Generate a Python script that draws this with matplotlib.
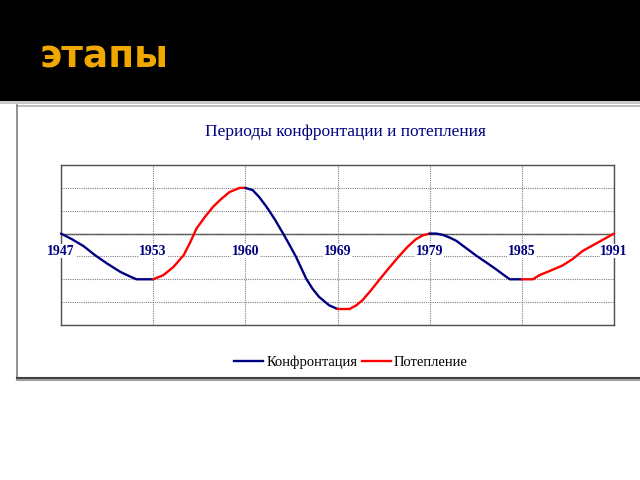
import matplotlib
matplotlib.use("Agg")
import matplotlib.pyplot as plt
from matplotlib.patches import Rectangle
from matplotlib.lines import Line2D

# категории (годы) на оси X
years = ["1947", "1953", "1960", "1969", "1979", "1985", "1991"]

# участки кривой: положение по оси X в долях категорий и значение
conf1_x = [0.0, 0.12, 0.245, 0.37, 0.5, 0.645, 0.75, 0.82, 0.9, 1.0]
conf1_y = [0.0, -0.25, -0.55, -0.95, -1.31, -1.68, -1.88, -2.0, -2.0, -2.0]

warm1_x = [1.0, 1.11, 1.22, 1.33, 1.4, 1.47, 1.56, 1.65, 1.74, 1.83, 1.94, 2.0]
warm1_y = [-2.0, -1.82, -1.46, -0.95, -0.4, 0.22, 0.72, 1.17, 1.52, 1.82, 2.0, 2.0]

conf2_x = [2.0, 2.08, 2.15, 2.23, 2.32, 2.41, 2.48, 2.55, 2.66, 2.73, 2.8, 2.91, 3.0]
conf2_y = [2.0, 1.9, 1.6, 1.17, 0.62, 0.0, -0.5, -1.02, -1.97, -2.42, -2.77, -3.14, -3.3]

warm2_x = [3.0, 3.13, 3.2, 3.27, 3.36, 3.45, 3.56, 3.67, 3.76, 3.85, 3.93, 4.0]
warm2_y = [-3.3, -3.3, -3.15, -2.92, -2.5, -2.04, -1.5, -0.98, -0.58, -0.25, -0.07, 0.0]

conf3_x = [4.0, 4.07, 4.145, 4.22, 4.29, 4.4, 4.51, 4.62, 4.72, 4.8, 4.87, 5.0]
conf3_y = [0.0, 0.0, -0.06, -0.18, -0.32, -0.65, -0.98, -1.28, -1.56, -1.8, -2.0, -2.0]

warm3_x = [5.0, 5.12, 5.19, 5.3, 5.44, 5.55, 5.66, 5.83, 6.0]
warm3_y = [-2.0, -2.0, -1.82, -1.64, -1.4, -1.12, -0.76, -0.38, 0.0]

navy = "#000080"
red = "#ff0000"
serif = "Liberation Serif"

fig = plt.figure(figsize=(6.4, 4.8), dpi=100)

# оформление слайда: черная шапка и белая панель с тенью
fig.patches.append(Rectangle((0, 1 - 100 / 480), 1, 100 / 480, transform=fig.transFigure,
                             color="black", zorder=0))
fig.add_artist(Line2D([0, 1], [1 - 102.5 / 480] * 2, color="#c8c8c8", lw=1.5))
fig.add_artist(Line2D([17 / 640, 1], [1 - 105.5 / 480] * 2, color="#b0b0b0", lw=1.2))
fig.add_artist(Line2D([17 / 640] * 2, [1 - 105 / 480, 1 - 377 / 480], color="#808080", lw=1.2))
fig.add_artist(Line2D([17 / 640, 1], [1 - 377.5 / 480] * 2, color="#404040", lw=1.5))
fig.add_artist(Line2D([17 / 640, 1], [1 - 379.5 / 480] * 2, color="#a0a0a0", lw=1.5))
fig.text(39 / 640, 1 - 57 / 480, "этапы", color="#f0a800", fontsize=27,
         fontweight="bold", family="DejaVu Sans", va="center", ha="left")

ax = fig.add_axes([61 / 640, 1 - 325 / 480, (614 - 61) / 640, 160 / 480])
ax.set_xlim(0, len(years) - 1)
ax.set_ylim(-4, 3)
ax.set_xticks(range(len(years)))
ax.set_yticks(range(-4, 4))
ax.tick_params(length=0, labelbottom=False, labelleft=False)
ax.grid(True, color="#808080", linestyle=(0, (1, 1)), linewidth=0.8)
ax.axhline(0, color="#404040", lw=1.0, zorder=1)
for s in ax.spines.values():
    s.set_color("#505050")
    s.set_linewidth(1.0)

for xs, ys, c in [(conf1_x, conf1_y, navy), (warm1_x, warm1_y, red),
                  (conf2_x, conf2_y, navy), (warm2_x, warm2_y, red),
                  (conf3_x, conf3_y, navy), (warm3_x, warm3_y, red)]:
    ax.plot(xs, ys, color=c, lw=1.7, solid_capstyle="round", solid_joinstyle="round",
            clip_on=False, zorder=3)

for i, y in enumerate(years):
    ax.text(i, -0.77, y, ha="center", va="center", color=navy, fontsize=10,
            fontweight="bold", family=serif, zorder=4,
            bbox=dict(facecolor="white", edgecolor="none", pad=0.5))

fig.text(345 / 640, 1 - 132 / 480, "Периоды конфронтации и потепления", ha="center",
         va="center", color=navy, fontsize=12.5, family=serif)

handles = [Line2D([], [], color=navy, lw=1.7), Line2D([], [], color=red, lw=1.7)]
fig.legend(handles, ["Конфронтация", "Потепление"], loc="center",
           bbox_to_anchor=(351 / 640, 1 - 362 / 480), ncol=2, frameon=False,
           prop={"family": serif, "size": 10.5}, handlelength=2.0, handletextpad=0.2,
           columnspacing=0.3)

fig.savefig("out.png", dpi=100)
